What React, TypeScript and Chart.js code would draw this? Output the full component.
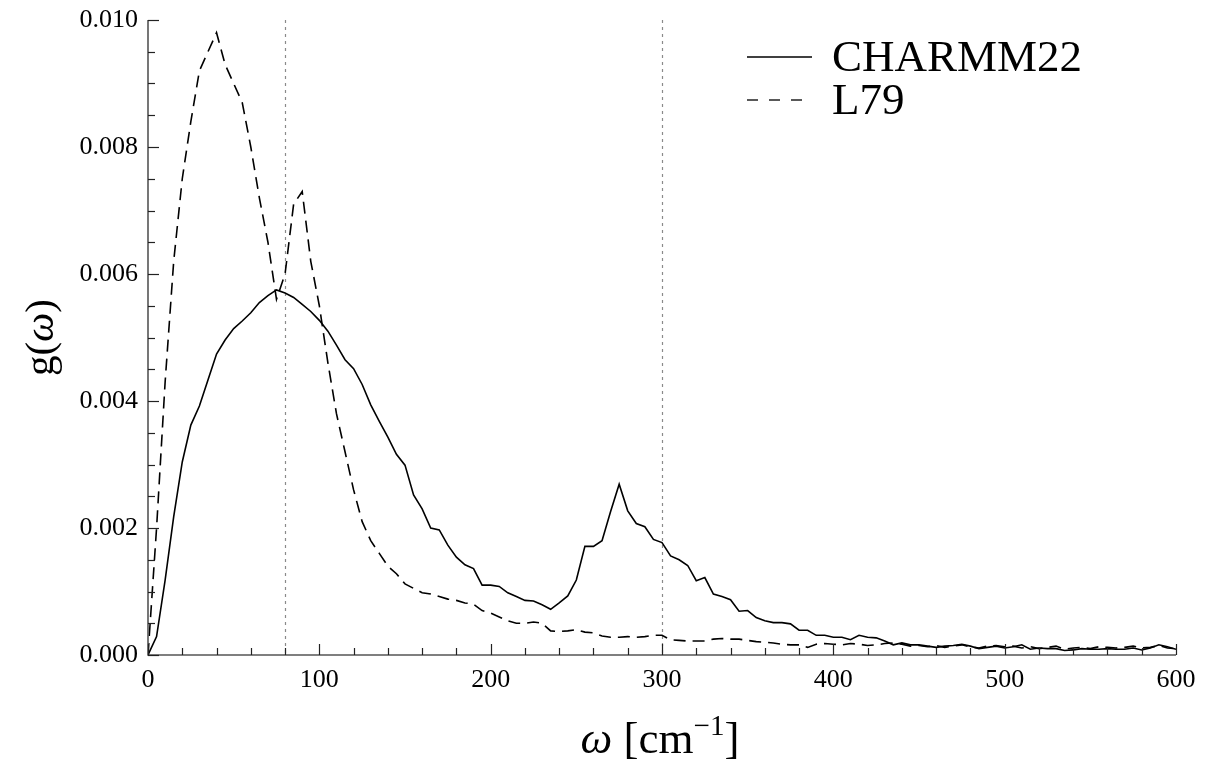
import React, { useEffect, useRef } from "react";
import { Chart, registerables } from "chart.js";

Chart.register(...registerables);

const omega: number[] = [
  0, 5, 10, 15, 20, 25, 30, 35, 40, 45, 50, 55, 60, 65, 70, 75, 80, 85, 90, 95,
  100, 105, 110, 115, 120, 125, 130, 135, 140, 145, 150, 155, 160, 165, 170, 175, 180, 185, 190, 195,
  200, 205, 210, 215, 220, 225, 230, 235, 240, 245, 250, 255, 260, 265, 270, 275, 280, 285, 290, 295,
  300, 305, 310, 315, 320, 325, 330, 335, 340, 345, 350, 355, 360, 365, 370, 375, 380, 385, 390, 395,
  400, 405, 410, 415, 420, 425, 430, 435, 440, 445, 450, 455, 460, 465, 470, 475, 480, 485, 490, 495,
  500, 505, 510, 515, 520, 525, 530, 535, 540, 545, 550, 555, 560, 565, 570, 575, 580, 585, 590, 595,
  600,
];

const charmm22: number[] = [
  0.0, 0.00029, 0.00118, 0.00218, 0.00304, 0.00362, 0.00392, 0.00433, 0.00474, 0.00496,
  0.00514, 0.00526, 0.00539, 0.00555, 0.00566, 0.00575, 0.0057, 0.00563, 0.00552, 0.00541,
  0.00527, 0.0051, 0.00488, 0.00465, 0.00451, 0.00426, 0.00394, 0.00368, 0.00343, 0.00316,
  0.00299, 0.00252, 0.0023, 0.002, 0.00197, 0.00173, 0.00154, 0.00142, 0.00136, 0.0011,
  0.0011, 0.00108, 0.00098, 0.00092, 0.00086, 0.00085, 0.00079, 0.00072, 0.00082, 0.00093,
  0.00118, 0.00171, 0.00171, 0.0018, 0.00226, 0.00269, 0.00227, 0.00207, 0.00202, 0.00182,
  0.00177, 0.00156, 0.0015, 0.00141, 0.00117, 0.00122, 0.00096, 0.00092, 0.00087, 0.00069,
  0.0007, 0.00059, 0.00054, 0.00051, 0.00051, 0.00049, 0.00039, 0.00039, 0.00031, 0.00031,
  0.00028, 0.00028, 0.00024, 0.00031, 0.00028, 0.00027, 0.00022, 0.00016, 0.00019, 0.00016,
  0.00016, 0.00014, 0.00012, 0.00014, 0.00015, 0.00017, 0.00014, 0.0001, 0.00012, 0.00014,
  0.00011, 0.00013, 0.00016, 0.00009, 0.00011, 0.0001, 0.0001, 0.00007, 0.00008, 0.0001,
  0.00009, 0.00009, 0.0001, 0.00009, 0.00009, 0.00011, 0.00008, 0.00011, 0.00016, 0.00013,
  0.00009,
];

const l79: number[] = [
  0.0, 0.002, 0.0043, 0.0062, 0.0075, 0.0084, 0.0092, 0.0095, 0.0098, 0.0093,
  0.009, 0.0087, 0.008, 0.0072, 0.0065, 0.0056, 0.006, 0.0071, 0.0073, 0.0062,
  0.0055, 0.0046, 0.0038, 0.0032, 0.0026, 0.0021, 0.0018, 0.0016, 0.0014, 0.00128,
  0.00112, 0.00105, 0.00098, 0.00096, 0.00092, 0.00088, 0.00086, 0.00082, 0.0008, 0.0007,
  0.00066, 0.0006, 0.00054, 0.0005, 0.0005, 0.00052, 0.0005, 0.00038, 0.00037, 0.00038,
  0.0004, 0.00036, 0.00035, 0.0003, 0.00028, 0.00028, 0.00029, 0.00028, 0.00029, 0.00031,
  0.00031, 0.00024, 0.00023, 0.00022, 0.00022, 0.00022, 0.00025, 0.00026, 0.00025, 0.00025,
  0.00023, 0.00021, 0.0002, 0.00019, 0.00017, 0.00016, 0.00016, 0.00012, 0.00017, 0.00018,
  0.00017, 0.00016, 0.00018, 0.00017, 0.00015, 0.00016, 0.00018, 0.00019, 0.00017, 0.00014,
  0.00015, 0.00013, 0.00015, 0.00012, 0.00014, 0.00016, 0.00013, 0.00011, 0.00014, 0.00015,
  0.00013, 0.00014, 0.00011, 0.00013, 0.0001, 0.00012, 0.00014, 0.00009, 0.00011, 0.00012,
  0.0001, 0.00013, 0.00012, 0.00011, 0.00012, 0.00014, 0.00011, 0.00012, 0.00015, 0.00011,
  0.0001,
];

const seriesLabels = ["CHARMM22", "L79"];
const referenceLines = [80, 300];
const xMajorTicks = [0, 100, 200, 300, 400, 500, 600];
const yMajorTicks = [0, 0.002, 0.004, 0.006, 0.008, 0.01];

const FONT = "'Liberation Serif', 'Times New Roman', serif";
const DASH = [12, 7];

const decorPlugin = {
  id: "decor",
  beforeDatasetsDraw(chart: any) {
    const { ctx, chartArea, scales } = chart;
    const xs = scales.x;
    ctx.save();
    ctx.strokeStyle = "#8a8a8a";
    ctx.lineWidth = 1.2;
    ctx.setLineDash([3, 4]);
    referenceLines.forEach((v) => {
      const px = Math.round(xs.getPixelForValue(v)) + 0.5;
      ctx.beginPath();
      ctx.moveTo(px, chartArea.top);
      ctx.lineTo(px, chartArea.bottom);
      ctx.stroke();
    });
    ctx.restore();
  },
  afterDraw(chart: any) {
    const { ctx, chartArea, scales } = chart;
    const xs = scales.x;
    const ys = scales.y;
    const L = chartArea.left;
    const B = chartArea.bottom;
    ctx.save();
    // axes
    ctx.strokeStyle = "#555";
    ctx.lineWidth = 1.6;
    ctx.setLineDash([]);
    ctx.beginPath();
    ctx.moveTo(L, chartArea.top);
    ctx.lineTo(L, B);
    ctx.lineTo(chartArea.right, B);
    ctx.stroke();
    // ticks
    ctx.strokeStyle = "#222";
    ctx.lineWidth = 1.2;
    for (let v = 0; v <= 600; v += 20) {
      const major = v % 100 === 0;
      const px = Math.round(xs.getPixelForValue(v)) + 0.5;
      ctx.beginPath();
      ctx.moveTo(px, B);
      ctx.lineTo(px, B - (major ? 11 : 7));
      ctx.stroke();
    }
    for (let i = 0; i <= 20; i++) {
      const v = i * 0.0005;
      const major = i % 4 === 0;
      const py = Math.round(ys.getPixelForValue(v)) + 0.5;
      ctx.beginPath();
      ctx.moveTo(L, py);
      ctx.lineTo(L + (major ? 11 : 7), py);
      ctx.stroke();
    }
    // y title
    ctx.fillStyle = "#000";
    ctx.textBaseline = "alphabetic";
    ctx.save();
    ctx.translate(53, (chartArea.top + B) / 2);
    ctx.rotate(-Math.PI / 2);
    const parts: [string, string][] = [
      ["g(", `41px ${FONT}`],
      ["ω", `italic 41px ${FONT}`],
      [")", `41px ${FONT}`],
    ];
    let w = 0;
    parts.forEach(([t, f]) => {
      ctx.font = f;
      w += ctx.measureText(t).width;
    });
    let cx = -w / 2;
    parts.forEach(([t, f]) => {
      ctx.font = f;
      ctx.textAlign = "left";
      ctx.fillText(t, cx, 0);
      cx += ctx.measureText(t).width;
    });
    ctx.restore();
    // x title
    const xparts: [string, string, number][] = [
      ["ω", `italic 45px ${FONT}`, 0],
      [" [cm", `45px ${FONT}`, 0],
      ["−1", `29px ${FONT}`, -18],
      ["]", `45px ${FONT}`, 0],
    ];
    let xw = 0;
    xparts.forEach(([t, f]) => {
      ctx.font = f;
      xw += ctx.measureText(t).width;
    });
    let xx = 660 - xw / 2;
    const baseY = 753;
    xparts.forEach(([t, f, dy]) => {
      ctx.font = f;
      ctx.textAlign = "left";
      ctx.fillText(t, xx, baseY + dy);
      xx += ctx.measureText(t).width;
    });
    // legend
    const legY = [57, 100];
    ctx.font = `45px ${FONT}`;
    ctx.textBaseline = "middle";
    chart.data.datasets.forEach((ds: any, i: number) => {
      ctx.strokeStyle = "#000";
      ctx.lineWidth = 1.3;
      ctx.setLineDash(i === 1 ? [11, 11] : []);
      ctx.beginPath();
      ctx.moveTo(747, legY[i]);
      ctx.lineTo(812, legY[i]);
      ctx.stroke();
      ctx.setLineDash([]);
      ctx.fillStyle = "#000";
      ctx.textAlign = "left";
      ctx.fillText(ds.label, 832, legY[i] + 2);
    });
    ctx.restore();
  },
};

export default function App() {
  const ref = useRef<HTMLCanvasElement | null>(null);
  useEffect(() => {
    document.body.style.margin = "0";
    const canvas = ref.current;
    if (!canvas) return;
    const chart = new Chart(canvas, {
      type: "line",
      data: {
        datasets: [
          {
            label: seriesLabels[0],
            data: omega.map((x, i) => ({ x, y: charmm22[i] })),
            borderColor: "#000",
            borderWidth: 1.6,
            pointRadius: 0,
            tension: 0,
            fill: false,
          },
          {
            label: seriesLabels[1],
            data: omega.map((x, i) => ({ x, y: l79[i] })),
            borderColor: "#000",
            borderWidth: 1.6,
            borderDash: DASH,
            pointRadius: 0,
            tension: 0,
            fill: false,
          },
        ],
      },
      options: {
        animation: false,
        responsive: false,
        maintainAspectRatio: false,
        layout: { padding: { left: 0, right: 29, top: 20, bottom: 0 } },
        plugins: { legend: { display: false }, tooltip: { enabled: false }, title: { display: false } },
        scales: {
          x: {
            type: "linear",
            min: 0,
            max: 600,
            afterFit: (s: any) => {
              s.height = 110;
              s.paddingLeft = 0;
              s.paddingRight = 0;
            },
            afterBuildTicks: (s: any) => {
              s.ticks = xMajorTicks.map((v) => ({ value: v }));
            },
            grid: { display: false, drawTicks: false },
            border: { display: false },
            ticks: {
              padding: 10,
              color: "#000",
              font: { family: FONT, size: 26 },
              maxRotation: 0,
              callback: (v: any) => String(v),
            },
          },
          y: {
            type: "linear",
            min: 0,
            max: 0.01,
            afterFit: (s: any) => {
              s.width = 148;
              s.paddingTop = 0;
              s.paddingBottom = 0;
            },
            afterBuildTicks: (s: any) => {
              s.ticks = yMajorTicks.map((v) => ({ value: v }));
            },
            grid: { display: false, drawTicks: false },
            border: { display: false },
            ticks: {
              padding: 10,
              color: "#000",
              font: { family: FONT, size: 26 },
              callback: (v: any) => Number(v).toFixed(3),
            },
          },
        },
      },
      plugins: [decorPlugin],
    });
    return () => chart.destroy();
  }, []);
  return (
    <div style={{ width: 1205, height: 765, background: "#fff" }}>
      <canvas ref={ref} width={1205} height={765} style={{ width: 1205, height: 765, display: "block" }} />
    </div>
  );
}
